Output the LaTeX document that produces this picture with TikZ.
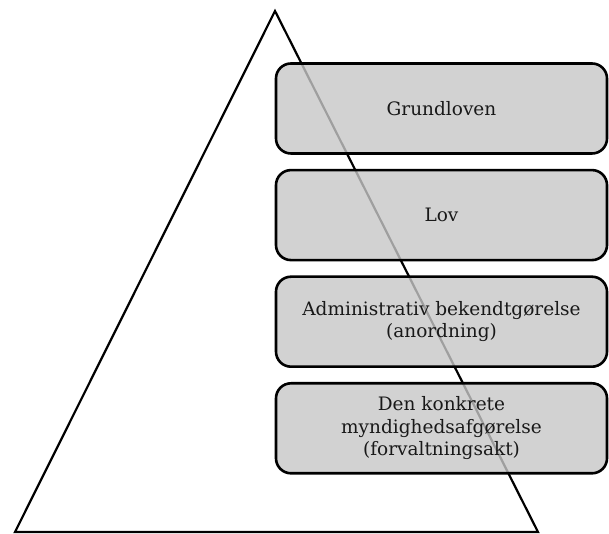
\documentclass[tikz,border=0pt]{standalone}
\usepackage{fontspec}
\setmainfont{DejaVu Serif}
\usepackage{tikz}
\usetikzlibrary{calc,positioning}

\tikzset{
	niveau/.style={draw=black, line width=2.6pt, rounded corners=15pt, fill=black!22, fill opacity=0.8, text opacity=1,
		minimum width=331pt, minimum height=90pt, align=center, text=black!90, font=\fontsize{18.5}{22.5}\selectfont},
}

\begin{document}
\begin{tikzpicture}[x=1pt,y=1pt]
						\useasboundingbox (0,0) rectangle (609,534);
						\coordinate (top) at (275,523);
						\coordinate (venstre) at (15,2);
						\coordinate (hoejre) at (538,2);

						\draw[line width=2.2pt, line join=miter] (venstre) -- (top) -- (hoejre) -- cycle;

						\node[niveau] (grundloven) at (441.5,425.5) {Grundloven};
						\node[niveau, below=14pt of grundloven] (lov) {Lov};
						\node[niveau, below=14pt of lov] (bekendtgoerelse) {Administrativ bekendtgørelse\\(anordning)};
						\node[niveau, below=14pt of bekendtgoerelse] (afgoerelse) {Den konkrete\\myndighedsafgørelse\\(forvaltningsakt)};
					\end{tikzpicture}
\end{document}
